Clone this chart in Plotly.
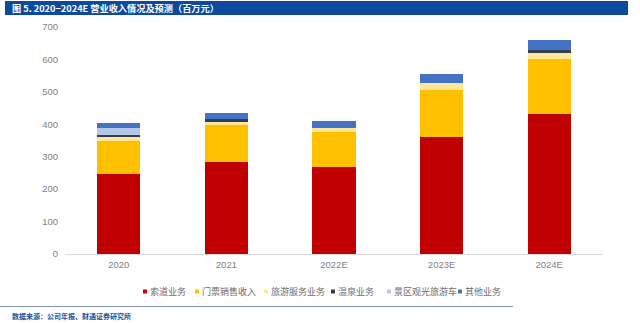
import plotly.graph_objects as go

years = ["2020", "2021", "2022E", "2023E", "2024E"]
series_names = ["索道业务", "门票销售收入", "旅游服务业务", "温泉业务", "景区观光旅游车", "其他业务"]
ropeway = [246, 283, 269, 362, 431]
tickets = [104, 114, 106, 144, 170]
travel_service = [11, 12, 14, 20, 21]
hot_spring = [7, 6, 0, 0, 6]
sightseeing_bus = [21, 0, 0, 0, 0]
other = [14, 19, 22, 28, 31]
y_ticks = [0, 100, 200, 300, 400, 500, 600, 700]

colors = ["#C00000", "#FFC000", "#FFE699", "#333F50", "#B4C7E7", "#4472C4"]
values = [ropeway, tickets, travel_service, hot_spring, sightseeing_bus, other]

W, H = 640, 323
L, R, T, B = 65, 37, 27, 69
PW, PH = W - L - R, H - T - B


def px(x):
    return (x - L) / PW


def py(y):
    return (H - B - y) / PH


FONT = "Liberation Sans, Arial, Noto Sans CJK SC"
CJK = "Noto Sans CJK SC, Liberation Sans"

fig = go.Figure()
for name, vals, c in zip(series_names, values, colors):
    fig.add_trace(go.Bar(x=years, y=vals, name=name, marker_color=c,
                         marker_line_width=0, showlegend=False))

shapes = []
annotations = []

# title bar
shapes.append(dict(type="rect", xref="paper", yref="paper",
                   x0=px(5), x1=px(628), y0=py(15), y1=py(1),
                   fillcolor="#0D4A9E", line_width=0, layer="above"))
annotations.append(dict(xref="paper", yref="paper", x=px(10), y=py(8),
                        xanchor="left", yanchor="middle", showarrow=False,
                        text="<b>图 5. 2020−2024E 营业收入情况及预测（百万元）</b>",
                        font=dict(family=CJK, size=9.2, color="white")))

# custom legend
leg_x = [143, 195, 264, 331, 387, 458]
for name, c, x in zip(series_names, colors, leg_x):
    shapes.append(dict(type="rect", xref="paper", yref="paper",
                       x0=px(x), x1=px(x + 4), y0=py(293.5), y1=py(289.5),
                       fillcolor=c, line_width=0))
    annotations.append(dict(xref="paper", yref="paper", x=px(x + 5), y=py(291.5),
                            xanchor="left", yanchor="middle", showarrow=False,
                            text=name,
                            font=dict(family=CJK, size=9, color="#6E6E6E")))

# bottom rule and source
shapes.append(dict(type="line", xref="paper", yref="paper",
                   x0=px(0), x1=px(513), y0=py(306.5), y1=py(306.5),
                   line=dict(color="#7F98AD", width=1.2)))
annotations.append(dict(xref="paper", yref="paper", x=px(10), y=py(316),
                        xanchor="left", yanchor="middle", showarrow=False,
                        text="<b>数据来源：公司年报、财通证券研究所</b>",
                        font=dict(family=CJK, size=7, color="#1F4E9A")))

fig.update_layout(
    barmode="stack",
    bargap=0.6,
    width=W, height=H,
    margin=dict(l=L, r=R, t=T, b=B, pad=0),
    paper_bgcolor="white",
    plot_bgcolor="white",
    font=dict(family=FONT, size=9.5, color="#7F7F7F"),
    shapes=shapes,
    annotations=annotations,
    xaxis=dict(showline=True, linecolor="#D9D9D9", linewidth=1,
               showgrid=False, ticks="", ticklabelstandoff=2,
               tickfont=dict(size=9.5, color="#7F7F7F")),
    yaxis=dict(range=[0, 700], tickvals=y_ticks, showgrid=False, zeroline=False,
               showline=False, ticks="", ticklabelstandoff=6,
               tickfont=dict(size=9.5, color="#7F7F7F")),
)

fig.write_html("out.html")
